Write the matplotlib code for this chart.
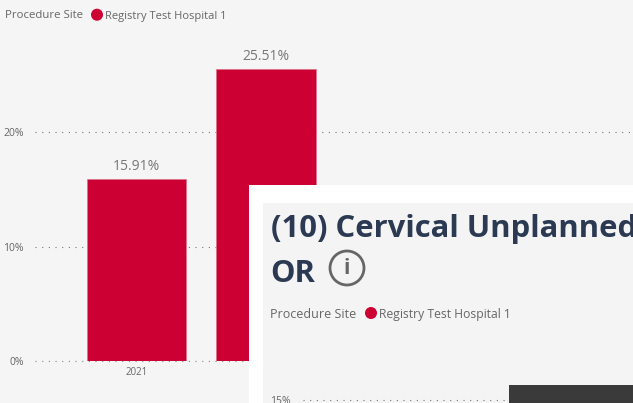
#Bar chart with a second report card lying on top of it
import matplotlib
matplotlib.use("Agg")
from matplotlib import pyplot as plt
from matplotlib.patches import Rectangle, Circle

years=['2021','2022']
values=[15.91,25.51]
ytick_vals=[0,10,20]
ytick_labels=['0%','10%','20%']
legend_title='Procedure Site'
legend_item='Registry Test Hospital 1'
card_title=['(10) Cervical Unplanned','OR']
card_ticks=[15]
card_tick_labels=['15%']

W,H=633,403
RED='#cc0033'
BG='#f5f5f5'
GREY='#666666'
plt.rcParams['font.family']=['Open Sans','DejaVu Sans']

fig=plt.figure(figsize=(W/100,H/100),dpi=100,facecolor=BG)

def pxaxes(left,top,right,bottom,z=1):
    #axes placed with pixel edges, y measured from the top of the image
    return fig.add_axes([left/W,1-bottom/H,(right-left)/W,(bottom-top)/H],zorder=z)

#main chart
ax=pxaxes(35,0,633,361,1)
ax.set_facecolor('none')
ax.bar(range(len(years)),values,width=0.765,color=RED,edgecolor='#dd6f8a',linewidth=0.5,zorder=2)
ax.set_xlim(-0.784,3.834)
ax.set_ylim(0,31.53)
ax.set_yticks(ytick_vals)
ax.set_yticklabels(ytick_labels,fontsize=7.5,color=GREY)
ax.set_xticks(range(len(years)))
ax.set_xticklabels(years,fontsize=7,color=GREY)
ax.tick_params(length=0)
ax.tick_params(axis='y',pad=8)
ax.tick_params(axis='x',pad=4)
ax.grid(axis='y',color='#777777',linestyle=(0,(1,5)),linewidth=0.8,zorder=1)
ax.set_axisbelow(True)
ax.axhline(0,color='#888888',linestyle=(0,(1,5)),linewidth=0.8,zorder=3,clip_on=False)
for s in ax.spines.values():
    s.set_visible(False)
for i,v in enumerate(values):
    ax.text(i,v+0.42,'%.2f%%'%v,ha='center',va='bottom',fontsize=10,color='#777777')

#overlay in pixel coordinates for the card and the legends
ov=pxaxes(0,0,W,H,3)
ov.set_xlim(0,W)
ov.set_ylim(H,0)
ov.axis('off')
ov.patch.set_alpha(0)

ov.text(5,18.5,legend_title,fontsize=8.2,color=GREY,va='baseline')
ov.add_patch(Circle((97,14.7),6,color=RED,lw=0))
ov.text(105,18.5,legend_item,fontsize=8,color=GREY,va='baseline')

ov.add_patch(Rectangle((249,185),W-249,H-185,color='white',lw=0))
ov.add_patch(Rectangle((263,203),W-263,H-203,color='#f4f4f4',lw=0))
ov.text(271,237,card_title[0],fontsize=22.3,fontweight='bold',color='#2b3a52',va='baseline')
ov.text(270,282,card_title[1],fontsize=22.3,fontweight='bold',color='#2b3a52',va='baseline')
ov.add_patch(Circle((347,268),17,fc='none',ec='#666666',lw=2))
ov.text(347,268,'i',fontsize=15,fontweight='bold',color='#666666',ha='center',va='center')
ov.text(270,318,legend_title,fontsize=9,color=GREY,va='baseline')
ov.add_patch(Circle((371,313),6,color=RED,lw=0))
ov.text(379,318,legend_item,fontsize=8.7,color=GREY,va='baseline')

#second chart, only its top gridline is in view
ax2=pxaxes(303,385,633,403,4)
ax2.set_facecolor('none')
ax2.set_xlim(0,1)
ax2.set_ylim(14.85,15.75)
ax2.set_xticks([])
ax2.set_yticks(card_ticks)
ax2.set_yticklabels(card_tick_labels,fontsize=7.5,color=GREY)
ax2.tick_params(length=0,pad=9)
ax2.grid(axis='y',color='#777777',linestyle=(0,(1,5)),linewidth=0.8)
for s in ax2.spines.values():
    s.set_visible(False)

#dark tooltip box in the corner
ov2=pxaxes(0,0,W,H,5)
ov2.set_xlim(0,W)
ov2.set_ylim(H,0)
ov2.axis('off')
ov2.add_patch(Rectangle((509,385),W-509,H-385,color='#3a3a3a',lw=0))

fig.savefig('out.png',dpi=100,facecolor=BG)
